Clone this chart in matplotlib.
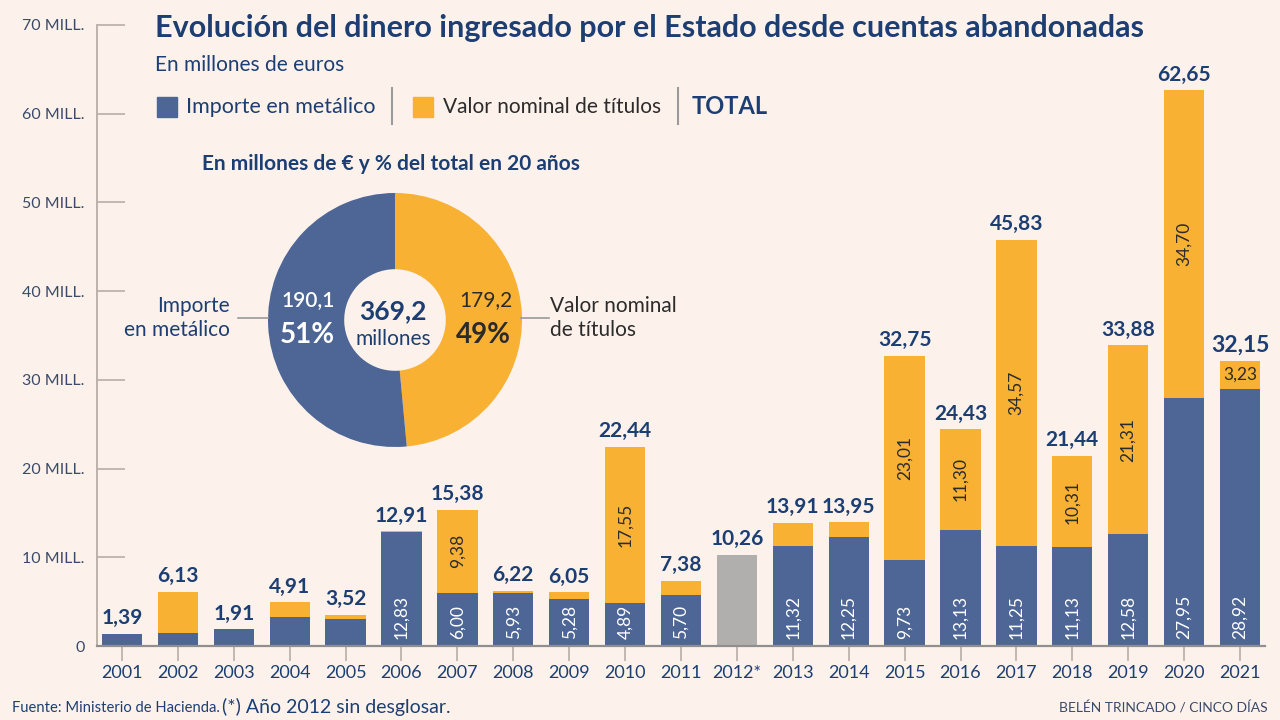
import matplotlib
matplotlib.use('Agg')
import matplotlib.pyplot as plt
from matplotlib.patches import Rectangle
from matplotlib.lines import Line2D

plt.rcParams['font.family'] = ['Lato', 'DejaVu Sans']

# data
years = ['2001', '2002', '2003', '2004', '2005', '2006', '2007', '2008', '2009', '2010', '2011',
         '2012*', '2013', '2014', '2015', '2016', '2017', '2018', '2019', '2020', '2021']
metalico = [1.39, 1.45, 1.91, 3.30, 3.05, 12.83, 6.00, 5.93, 5.28, 4.89, 5.70,
            0, 11.32, 12.25, 9.73, 13.13, 11.25, 11.13, 12.58, 27.95, 28.92]
titulos = [0, 4.68, 0, 1.61, 0.47, 0.08, 9.38, 0.29, 0.77, 17.55, 1.68,
           0, 2.59, 1.70, 23.01, 11.30, 34.57, 10.31, 21.31, 34.70, 3.23]
sin_desglosar = [0, 0, 0, 0, 0, 0, 0, 0, 0, 0, 0,
                 10.26, 0, 0, 0, 0, 0, 0, 0, 0, 0]
totals = [1.39, 6.13, 1.91, 4.91, 3.52, 12.91, 15.38, 6.22, 6.05, 22.44, 7.38,
          10.26, 13.91, 13.95, 32.75, 24.43, 45.83, 21.44, 33.88, 62.65, 32.15]
titulos_rotulados = ['2007', '2010', '2015', '2016', '2017', '2018', '2019', '2020', '2021']

pie_vals = [179.2, 190.1]   # títulos, metálico
pie_total = 369.2

y_ticks = [0, 10, 20, 30, 40, 50, 60, 70]
y_labels = ['0', '10 MILL.', '20 MILL.', '30 MILL.', '40 MILL.', '50 MILL.', '60 MILL.', '70 MILL.']

# colours
bg = '#fcf2eb'
blue = '#4d6695'
orange = '#f8b133'
grey_bar = '#b1afae'
navy = '#1c3e73'
axis_grey = '#b7aea8'
dark = '#2b2b2b'

def fmt(v):
    return f'{v:.2f}'.replace('.', ',')

fig = plt.figure(figsize=(12.8, 7.2), dpi=100, facecolor=bg)
ax = fig.add_axes([97/1280, 74/720, 1168/1280, 621/720])
ax.set_facecolor(bg)

x = list(range(len(years)))
w = 0.72
ax.bar(x, metalico, width=w, color=blue, zorder=3)
ax.bar(x, titulos, width=w, bottom=metalico, color=orange, zorder=3)
ax.bar(x, sin_desglosar, width=w, color=grey_bar, zorder=3)

for i, t in enumerate(totals):
    ax.annotate(fmt(t), (i, t), xytext=(0, 4), textcoords='offset points',
                ha='center', va='bottom', fontsize=15 if i < 20 else 16.5,
                fontweight='bold', color=navy)

for i, (m, o) in enumerate(zip(metalico, titulos)):
    if m >= 4:
        ax.text(i, 0.8, fmt(m), rotation=90, ha='center', va='bottom',
                fontsize=12.5, color='white', zorder=4)
    if years[i] in titulos_rotulados:
        rot = 90 if o > 5 else 0
        ax.text(i, m + o / 2, fmt(o), rotation=rot, ha='center', va='center',
                fontsize=12.5, color=dark, zorder=4)

ax.set_xlim(-0.447, 20.447)
ax.set_ylim(0, 70)
ax.set_yticks(y_ticks)
ax.set_yticklabels(y_labels)
ax.set_xticks(x)
ax.set_xticklabels(years)
for s in ['top', 'right']:
    ax.spines[s].set_visible(False)
ax.spines['left'].set_color(axis_grey)
ax.spines['left'].set_linewidth(1.3)
ax.spines['bottom'].set_color('#8f8f8f')
ax.spines['bottom'].set_linewidth(1.6)
ax.spines['bottom'].set_zorder(5)
ax.tick_params(axis='y', direction='in', length=20, width=1.2, color=axis_grey,
               pad=9, labelsize=11.5, labelcolor='#3a4a6a')
ax.tick_params(axis='x', direction='out', length=11, width=1.2, color=axis_grey,
               pad=3, labelsize=13, labelcolor=navy)

# titles
fig.text(155/1280, 1 - 28/720, 'Evolución del dinero ingresado por el Estado desde cuentas abandonadas',
         fontsize=22, fontweight='bold', color=navy, va='center', ha='left')
fig.text(155/1280, 1 - 65/720, 'En millones de euros', fontsize=15, color=navy, va='center')

# legend
fig.patches.append(Rectangle((157/1280, 1 - 117/720), 20/1280, 20/720, transform=fig.transFigure,
                             color=blue))
fig.text(186/1280, 1 - 107/720, 'Importe en metálico', fontsize=15.5, color=navy, va='center')
fig.lines.append(Line2D([392/1280] * 2, [1 - 88/720, 1 - 124/720], transform=fig.transFigure,
                        color='#9a9a9a', lw=1.5))
fig.patches.append(Rectangle((413/1280, 1 - 117/720), 20/1280, 20/720, transform=fig.transFigure,
                             color=orange))
fig.text(443/1280, 1 - 107/720, 'Valor nominal de títulos', fontsize=15, color=dark, va='center')
fig.lines.append(Line2D([678/1280] * 2, [1 - 88/720, 1 - 124/720], transform=fig.transFigure,
                        color='#9a9a9a', lw=1.5))
fig.text(692/1280, 1 - 107/720, 'TOTAL', fontsize=17, fontweight='bold', color=navy, va='center')

# donut
fig.text(391/1280, 1 - 164/720, 'En millones de € y % del total en 20 años',
         fontsize=15, fontweight='bold', color=navy, ha='center', va='center')
pax = fig.add_axes([(395 - 127)/1280, (720 - 320 - 127)/720, 254/1280, 254/720])
pax.pie(pie_vals, colors=[orange, blue], startangle=90, counterclock=False,
        radius=1, wedgeprops=dict(width=0.6, linewidth=0))
pax.set_xlim(-1, 1)
pax.set_ylim(-1, 1)
pax.set_aspect('equal')
pax.axis('off')

def ftxt(px, py, s, **kw):
    fig.text(px/1280, 1 - py/720, s, ha='center', va='center', **kw)

ftxt(308, 300, f'{pie_vals[1]:.1f}'.replace('.', ','), fontsize=15, color='white', fontweight='semibold')
ftxt(307, 335, f'{pie_vals[1] / pie_total * 100:.0f}%', fontsize=20, color='white', fontweight='bold')
ftxt(393, 311, f'{pie_total:.1f}'.replace('.', ','), fontsize=19, color=navy, fontweight='bold')
ftxt(393, 339, 'millones', fontsize=15, color=navy)
ftxt(486, 300, f'{pie_vals[0]:.1f}'.replace('.', ','), fontsize=15, color=dark)
ftxt(483, 335, f'{pie_vals[0] / pie_total * 100:.0f}%', fontsize=20, color=dark, fontweight='bold')

fig.text(230/1280, 1 - 318/720, 'Importe\nen metálico', fontsize=15, color=navy,
         ha='right', va='center', linespacing=1.3, multialignment='right')
fig.text(550/1280, 1 - 318/720, 'Valor nominal\nde títulos', fontsize=15, color=dark,
         ha='left', va='center', linespacing=1.3)
fig.lines.append(Line2D([238/1280, 268/1280], [1 - 318/720] * 2, transform=fig.transFigure,
                        color='#9a9a9a', lw=1.2))
fig.lines.append(Line2D([521/1280, 549/1280], [1 - 318/720] * 2, transform=fig.transFigure,
                        color='#9a9a9a', lw=1.2))

# footer
fig.text(12/1280, 1 - 708/720, 'Fuente: Ministerio de Hacienda.', fontsize=10.6, color=navy,
         va='center')
fig.text(222/1280, 1 - 707/720, '(*) Año 2012 sin desglosar.', fontsize=14, color=navy, va='center')
fig.text(1268/1280, 1 - 708/720, 'BELÉN TRINCADO / CINCO DÍAS', fontsize=10, color='#3a4a6a',
         ha='right', va='center')

fig.savefig('out.png', dpi=100, facecolor=bg)
